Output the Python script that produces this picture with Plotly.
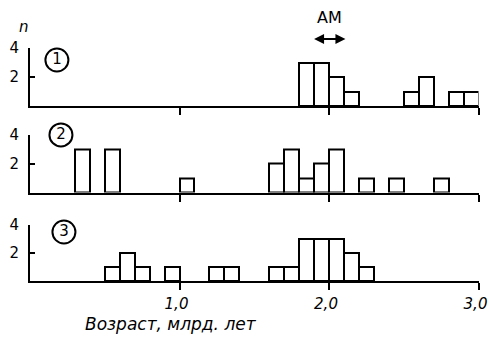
import plotly.graph_objects as go

# ---- data (ages in Ga, bin centres; counts n) ----
bin_width = 0.1
p1_age = [1.85, 1.95, 2.05, 2.15, 2.55, 2.65, 2.85, 2.95]
p1_n = [3, 3, 2, 1, 1, 2, 1, 1]
p2_age = [0.35, 0.55, 1.05, 1.65, 1.75, 1.85, 1.95, 2.05, 2.25, 2.45, 2.75]
p2_n = [3, 3, 1, 2, 3, 1, 2, 3, 1, 1, 1]
p3_age = [0.55, 0.65, 0.75, 0.95, 1.25, 1.35, 1.65, 1.75, 1.85, 1.95, 2.05, 2.15, 2.25]
p3_n = [1, 2, 1, 1, 1, 1, 1, 1, 3, 3, 3, 2, 1]
panel_labels = ["1", "2", "3"]
x_tickvals = [1, 2, 3]
x_ticktext = ["1,0", "2,0", "3,0"]
y_tickvals = [2, 4]
y_ticktext = ["2", "4"]
x_title = "Возраст, млрд. лет"
y_title = "n"
am_label = "AM"
am_range = [1.89, 2.11]

FONT = "DejaVu Sans"
W, H = 489, 339
x_dom = [30 / W, 478.5 / W]
y_doms = [
    [1 - 106 / H, 1 - 48 / H],
    [1 - 192.5 / H, 1 - 134.5 / H],
    [1 - 281 / H, 1 - 225 / H],
]
circle_pos = [(0.18, 3.17), (0.207, 3.97), (0.227, 3.5)]

fig = go.Figure()
series = [(p1_age, p1_n), (p2_age, p2_n), (p3_age, p3_n)]
for i, (ages, counts) in enumerate(series):
    xa = "x" if i == 0 else f"x{i+1}"
    ya = "y" if i == 0 else f"y{i+1}"
    fig.add_trace(go.Bar(
        x=ages, y=counts, width=bin_width, xaxis=xa, yaxis=ya,
        marker=dict(color="white", line=dict(color="black", width=2)),
        showlegend=False, hoverinfo="skip"))
    cx, cy = circle_pos[i]
    fig.add_trace(go.Scatter(
        x=[cx], y=[cy], xaxis=xa, yaxis=ya, mode="markers+text",
        text=[panel_labels[i]], textposition="middle center",
        textfont=dict(family=FONT, size=15, color="black"),
        marker=dict(symbol="circle-open", size=23, color="black",
                    line=dict(width=2, color="black")),
        cliponaxis=False, showlegend=False, hoverinfo="skip"))

layout = dict(
    width=W, height=H, template="none",
    margin=dict(l=0, r=0, t=0, b=0),
    paper_bgcolor="white", plot_bgcolor="white",
    showlegend=False, bargap=0,
)
for i in range(3):
    xk = "xaxis" if i == 0 else f"xaxis{i+1}"
    yk = "yaxis" if i == 0 else f"yaxis{i+1}"
    ya = "y" if i == 0 else f"y{i+1}"
    xa = "x" if i == 0 else f"x{i+1}"
    layout[xk] = dict(
        domain=x_dom, range=[0, 3], anchor=ya, showline=True, linecolor="black",
        linewidth=2, ticks="outside", ticklen=7, tickwidth=2, tickcolor="black",
        tickvals=x_tickvals, ticktext=x_ticktext, showgrid=False, zeroline=False,
        showticklabels=(i == 2), automargin=False, ticklabelstandoff=1,
        ticklabeloverflow="allow", ticklabelshift=-3,
        tickfont=dict(family=FONT, size=15, color="black", style="italic"),
        fixedrange=True)
    layout[yk] = dict(
        domain=y_doms[i], range=[0, 4], anchor=xa, showline=True, linecolor="black",
        linewidth=2, ticks="inside", ticklen=5, tickwidth=2, tickcolor="black",
        tickvals=y_tickvals, ticktext=y_ticktext, showgrid=False, zeroline=False,
        automargin=False, ticklabelstandoff=6,
        tickfont=dict(family=FONT, size=15, color="black"),
        fixedrange=True)
fig.update_layout(**layout)

# AM double-headed arrow (above panel 1)
fig.add_annotation(x=am_range[1], y=1 - 39 / H, xref="x", yref="paper",
                   ax=am_range[0], ay=0, axref="x", ayref="pixel",
                   text="", showarrow=True, arrowhead=2,
                   arrowside="end+start", arrowwidth=2, arrowsize=1, arrowcolor="black")
fig.add_annotation(x=sum(am_range) / 2, y=1 - 18 / H, xref="x", yref="paper",
                   yanchor="middle", text=am_label, showarrow=False,
                   font=dict(family=FONT, size=16, color="black"))
fig.add_annotation(x=24 / W, y=1 - 27 / H, xref="paper", yref="paper", text=y_title,
                   xanchor="center", yanchor="middle", showarrow=False,
                   font=dict(family=FONT, size=15, color="black", style="italic"))
fig.add_annotation(x=171 / W, y=1 - 324 / H, xref="paper", yref="paper", text=x_title,
                   xanchor="center", yanchor="middle", showarrow=False,
                   font=dict(family=FONT, size=17, color="black", style="italic"))

fig.write_html("out.html")
